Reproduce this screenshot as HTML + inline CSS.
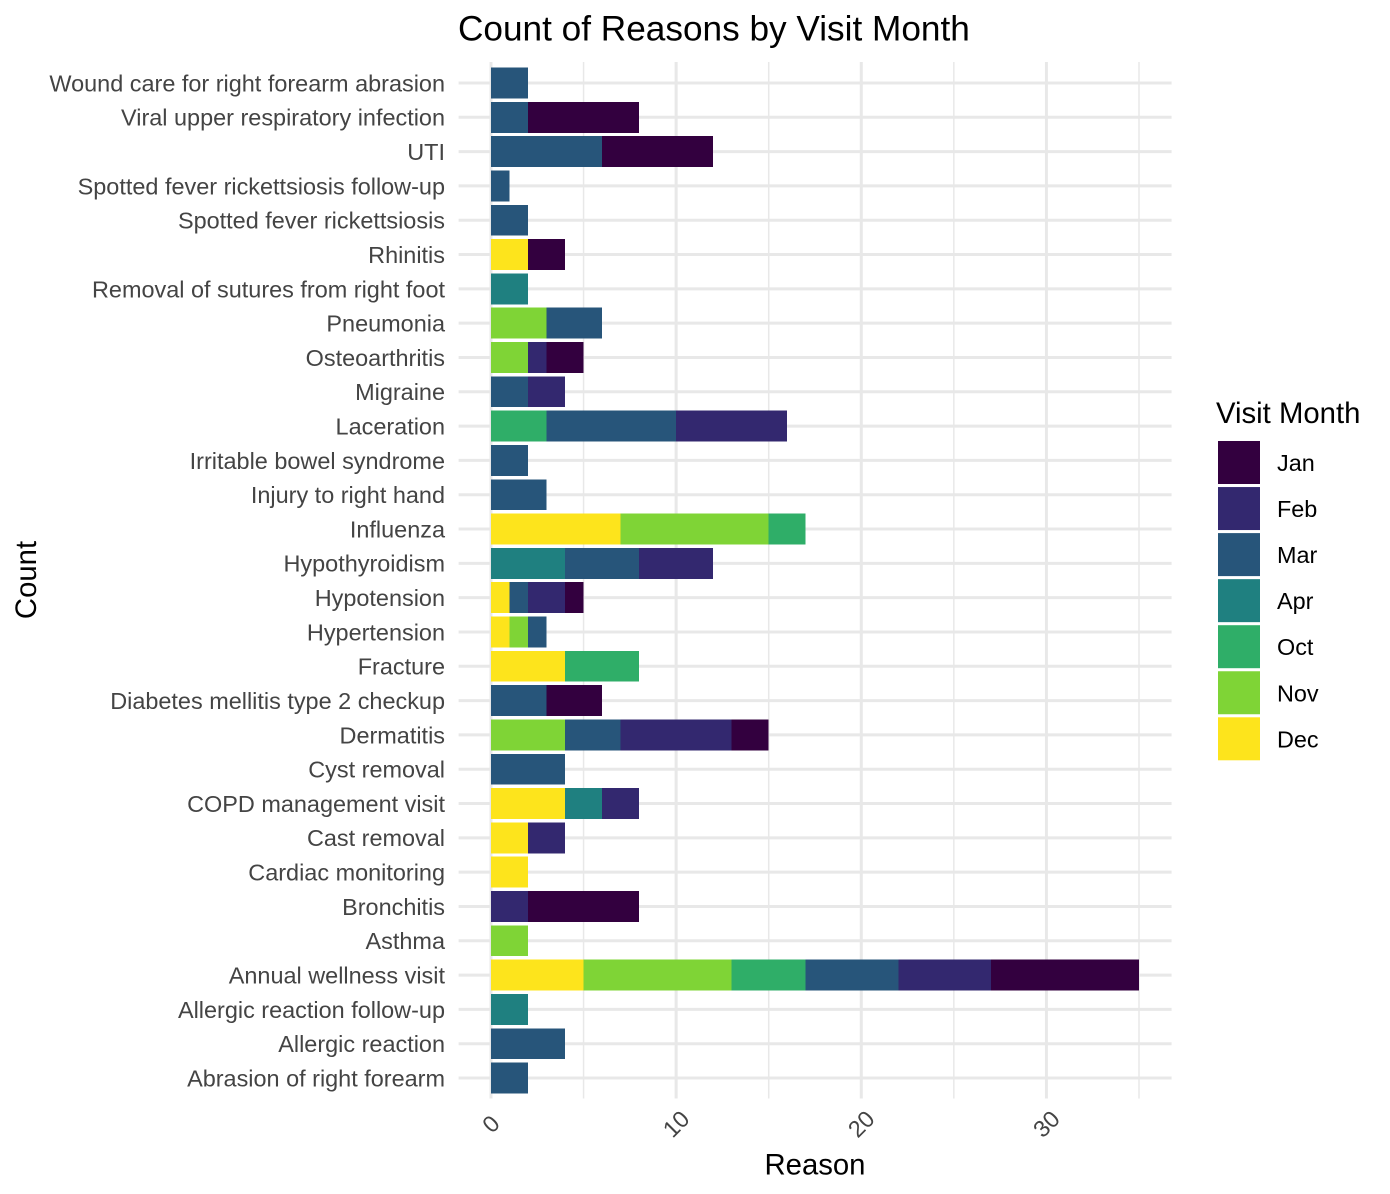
<!DOCTYPE html>
<html>
<head>
<meta charset="utf-8">
<style>
html,body{margin:0;padding:0;background:#fff;width:1390px;height:1194px;overflow:hidden}
svg{display:block;font-family:"Liberation Sans",Arial,sans-serif}
</style>
</head>
<body>
<svg id="chart" xmlns="http://www.w3.org/2000/svg" width="1390" height="1194" viewBox="0 0 1390 1194">
<rect width="1390" height="1194" fill="#fff"/>
<g id="grid"></g>
<g id="bars" shape-rendering="crispEdges"></g>
<g id="ylabels"></g>
<g id="xlabels"></g>
<text x="458" y="40.5" font-size="35.2" fill="#000">Count of Reasons by Visit Month</text>
<text x="815" y="1174.5" font-size="29.3" fill="#000" text-anchor="middle">Reason</text>
<text transform="translate(36,580) rotate(-90)" font-size="29.3" fill="#000" text-anchor="middle">Count</text>
<g id="legend">
<text x="1216" y="423" font-size="29.3" fill="#000">Visit Month</text>
</g>
</svg>
<script>
// Categories from bottom to top
const categories = ["Abrasion of right forearm","Allergic reaction","Allergic reaction follow-up","Annual wellness visit","Asthma","Bronchitis","Cardiac monitoring","Cast removal","COPD management visit","Cyst removal","Dermatitis","Diabetes mellitis type 2 checkup","Fracture","Hypertension","Hypotension","Hypothyroidism","Influenza","Injury to right hand","Irritable bowel syndrome","Laceration","Migraine","Osteoarthritis","Pneumonia","Removal of sutures from right foot","Rhinitis","Spotted fever rickettsiosis","Spotted fever rickettsiosis follow-up","UTI","Viral upper respiratory infection","Wound care for right forearm abrasion"];
const months = ["Jan","Feb","Mar","Apr","Oct","Nov","Dec"];
const monthColors = ["#33003f","#33286f","#27557a","#1f8080","#2fae68","#7fd436","#fde41c"];
// Series values, aligned with categories
const jan = [0,0,0,8,0,6,0,0,0,0,2,3,0,0,1,0,0,0,0,0,0,2,0,0,2,0,0,6,6,0];
const feb = [0,0,0,5,0,2,0,2,2,0,6,0,0,0,2,4,0,0,0,6,2,1,0,0,0,0,0,0,0,0];
const mar = [2,4,0,5,0,0,0,0,0,4,3,3,0,1,1,4,0,3,2,7,2,0,3,0,0,2,1,6,2,2];
const apr = [0,0,2,0,0,0,0,0,2,0,0,0,0,0,0,4,0,0,0,0,0,0,0,2,0,0,0,0,0,0];
const oct = [0,0,0,4,0,0,0,0,0,0,0,0,4,0,0,0,2,0,0,3,0,0,0,0,0,0,0,0,0,0];
const nov = [0,0,0,8,2,0,0,0,0,0,4,0,0,1,0,0,8,0,0,0,0,2,3,0,0,0,0,0,0,0];
const dec = [0,0,0,5,0,0,2,2,4,0,0,0,4,1,1,0,7,0,0,0,0,0,0,0,2,0,0,0,0,0];
const majorTicks = [0,10,20,30];
const minorTicks = [5,15,25,35];

const NS = "http://www.w3.org/2000/svg";
const stackOrder = [dec, nov, oct, apr, mar, feb, jan];
const stackColors = [6,5,4,3,2,1,0].map(function(i){return monthColors[i];});
const stackNames = [6,5,4,3,2,1,0].map(function(i){return months[i];});
const panelLeft = 458.6, panelRight = 1171.6, panelTop = 62, panelBottom = 1098.5;
function xScale(v){ return 491 + v * 18.514; }
function yScale(i){ return 1078 - i * (995 / 29); }
const bandHeight = 0.9 * (995 / 29);
function mk(tag, attrs, parent){
  const el = document.createElementNS(NS, tag);
  for (const k in attrs) el.setAttribute(k, attrs[k]);
  parent.appendChild(el);
  return el;
}
const grid = document.getElementById("grid");
const bars = document.getElementById("bars");
const ylabels = document.getElementById("ylabels");
const xlabels = document.getElementById("xlabels");
const legend = document.getElementById("legend");

minorTicks.forEach(function(t){
  const l = mk("line", {x1:xScale(t), x2:xScale(t), y1:panelTop, y2:panelBottom, stroke:"#e8e8e8", "stroke-width":1.5}, grid);
  
  
});
majorTicks.forEach(function(t){
  const l = mk("line", {x1:xScale(t), x2:xScale(t), y1:panelTop, y2:panelBottom, stroke:"#e8e8e8", "stroke-width":3}, grid);
  
  
  const g = mk("text", {transform:"translate("+xScale(t)+",1124) rotate(-45)", "font-size":"23.4", fill:"#444444", "text-anchor":"middle", "dominant-baseline":"central"}, xlabels);
  g.textContent = String(t);
  
  
});
categories.forEach(function(c, i){
  const y = yScale(i);
  const l = mk("line", {x1:panelLeft, x2:panelRight, y1:y, y2:y, stroke:"#e8e8e8", "stroke-width":3}, grid);
  
  
  const t = mk("text", {x:445, y:y + 8.4, "font-size":"23.45", fill:"#444444", "text-anchor":"end"}, ylabels);
  t.textContent = c;
  
  
  let cum = 0;
  stackOrder.forEach(function(series, s){
    const v = series[i];
    if (!v) return;
    const r = mk("rect", {x:xScale(cum), y:y - bandHeight / 2, width:xScale(cum + v) - xScale(cum), height:bandHeight, fill:stackColors[s]}, bars);
    
    
    cum += v;
  });
});
months.forEach(function(m, i){
  const top = 441 + i * 46.05;
  const r = mk("rect", {x:1218, y:top, width:42, height:43, fill:monthColors[i]}, legend);
  
  
  const t = mk("text", {x:1277, y:top + 30, "font-size":"23.4", fill:"#000"}, legend);
  t.textContent = m;
  
  
});
</script>
</body>
</html>
